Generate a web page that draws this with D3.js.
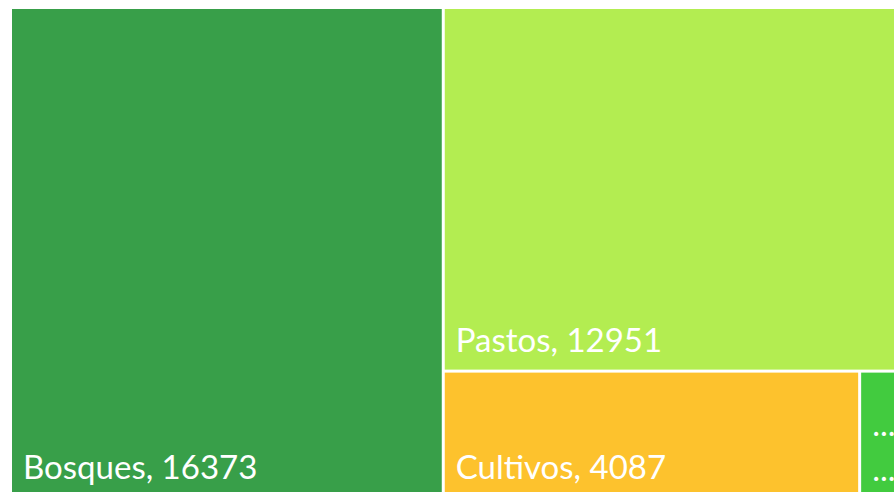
<!DOCTYPE html>
<html>
<head>
<meta charset="utf-8">
<script src="https://cdn.jsdelivr.net/npm/d3@7"></script>
<style>
  html, body { margin: 0; padding: 0; background: #fff; overflow: hidden; }
  svg { display: block; }
  .label { fill: #fff; font-family: Lato, "Open Sans", sans-serif; }
</style>
</head>
<body>
<svg></svg>
<script>
// land use categories and values
const categories = ["Bosques", "Pastos", "Cultivos", "Otros"]
const values = [16373, 12951, 4087, 450]
const colors = ["#389f49", "#b3ed51", "#fdc22d", "#42cb3f"]

const w = 894
const h = 492
const marginLeft = 12
const marginTop = 9
const chartW = 892
const chartH = 488
const fontSize = 33
const pad = 11

const svg = d3.select("svg")
    .attr("width", w)
    .attr("height", h)

const data = categories.map((c, i) => ({ name: c, value: values[i], color: colors[i] }))

const root = d3.hierarchy({ children: data })
    .sum(d => d.value || 0)
    .sort((a, b) => b.value - a.value)

d3.treemap()
    .tile(d3.treemapSquarify)
    .size([chartW, chartH])
    .paddingInner(3)(root)

const g = svg.append("g")
    .attr("transform", `translate(${marginLeft}, ${marginTop})`)

const cell = g.selectAll("g")
    .data(root.leaves())
    .enter()
    .append("g")
    .attr("transform", d => `translate(${d.x0}, ${d.y0})`)

cell.append("rect")
    .attr("width", d => d.x1 - d.x0)
    .attr("height", d => d.y1 - d.y0)
    .attr("fill", d => d.data.color)

//Labels at bottom left, shortened to "..." when they do not fit
cell.each(function (d) {
    const sel = d3.select(this)
    const cw = d.x1 - d.x0 - pad * 2
    const ch = d.y1 - d.y0
    const full = `${d.data.name}, ${d.data.value}`

    const t = sel.append("text")
        .attr("class", "label")
        .attr("x", pad)
        .attr("y", ch - 18)
        .style("font-size", fontSize + "px")
        .text(full)

    if (t.node().getComputedTextLength() > cw) {
        t.remove()
        const lines = [d.data.name + ",", String(d.data.value)]
        lines.forEach((line, i) => {
            const lt = sel.append("text")
                .attr("class", "label")
                .attr("x", pad)
                .attr("y", ch - 16 - (lines.length - 1 - i) * 45)
                .style("font-size", fontSize + "px")
                .text(line)
            if (lt.node().getComputedTextLength() > cw) lt.text("...")
        })
    }
})
</script>
</body>
</html>
